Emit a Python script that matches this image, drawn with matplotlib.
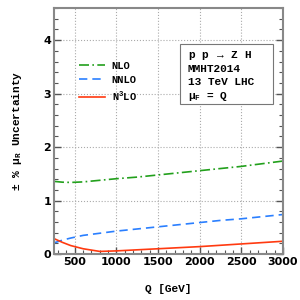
import numpy as np
import matplotlib
matplotlib.use("Agg")
import matplotlib.pyplot as plt
from matplotlib.patches import Rectangle
from matplotlib.ticker import MultipleLocator

# values
q = [250, 350, 450, 600, 800, 1000, 1250, 1500, 1750, 2000, 2250, 2500, 2750, 3000]
nlo = [1.36, 1.345, 1.34, 1.35, 1.38, 1.41, 1.44, 1.48, 1.52, 1.56, 1.60, 1.64, 1.69, 1.74]
nnlo = [0.21, 0.26, 0.30, 0.35, 0.39, 0.43, 0.47, 0.51, 0.55, 0.59, 0.63, 0.66, 0.70, 0.74]
n3lo = [0.29, 0.22, 0.16, 0.10, 0.05, 0.06, 0.08, 0.10, 0.12, 0.14, 0.165, 0.19, 0.215, 0.24]

mono = "Liberation Mono"
plt.rcParams["mathtext.fontset"] = "custom"
plt.rcParams["mathtext.rm"] = "Liberation Mono:bold"
plt.rcParams["mathtext.it"] = "Liberation Mono:bold"
plt.rcParams["mathtext.bf"] = "Liberation Mono:bold"

fig = plt.figure(figsize=(3, 3), dpi=100)
ax = fig.add_axes([0.18, 0.153, 0.763, 0.82])

ax.plot(q, nlo, color="#22a01c", lw=1.2, ls=(0, (6, 2, 1, 2)), label="NLO")
ax.plot(q, nnlo, color="#2a7fff", lw=1.2, ls=(0, (5, 3)), label="NNLO")
ax.plot(q, n3lo, color="#ff3a10", lw=1.2, label=r"N$^3$LO")

ax.set_xlim(250, 3000)
ax.set_ylim(0, 4.6)
ax.xaxis.set_major_locator(MultipleLocator(500))
ax.xaxis.set_minor_locator(MultipleLocator(100))
ax.yaxis.set_major_locator(MultipleLocator(1))
ax.yaxis.set_minor_locator(MultipleLocator(0.2))
ax.grid(True, which="major", color="#aaaaaa", ls=":", lw=0.8)
ax.tick_params(which="both", direction="in", top=False, right=True, color="#555555")
ax.tick_params(which="major", length=5, width=1, labelsize=8, pad=2)
ax.tick_params(which="minor", length=3, width=0.8)
for lab in ax.get_xticklabels() + ax.get_yticklabels():
    lab.set_fontweight("bold")
for s in ax.spines.values():
    s.set_color("#888888")
    s.set_linewidth(1.5)

ax.set_xlabel("Q [GeV]", fontfamily=mono, fontweight="bold", fontsize=8, labelpad=12)
ax.set_ylabel(r"$\pm$ % $\mu_{R}$ Uncertainty", fontfamily=mono, fontweight="bold",
              fontsize=8, labelpad=14)

leg = ax.legend(loc="upper left", bbox_to_anchor=(0.07, 0.825), frameon=False,
                prop={"family": mono, "weight": "bold", "size": 7.5},
                handlelength=2.5, labelspacing=0.42, handletextpad=0.6)

# info box
ax.add_patch(Rectangle((0.55, 0.61), 0.406, 0.244, transform=ax.transAxes,
                       fc="white", ec="#777777", lw=0.8, zorder=4))
ax.text(0.585, 0.835, "p p $\\rightarrow$ Z H\nMMHT2014\n13 TeV LHC\n$\\mu_{F}$ = Q",
        transform=ax.transAxes, ha="left", va="top", fontfamily=mono, fontweight="bold",
        fontsize=8, linespacing=1.35, zorder=5)

fig.savefig("out.png", dpi=100)
